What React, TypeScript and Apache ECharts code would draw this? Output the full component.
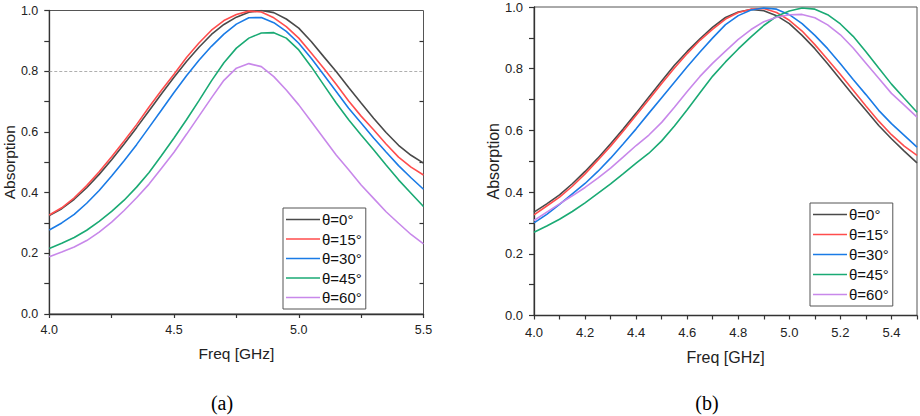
import React, { useEffect, useRef } from "react";
import * as echarts from "echarts";

const freq = [
  4.0, 4.05, 4.1, 4.15, 4.2, 4.25, 4.3, 4.35, 4.4, 4.45, 4.5, 4.55, 4.6, 4.65, 4.7, 4.75,
  4.8, 4.85, 4.9, 4.95, 5.0, 5.05, 5.1, 5.15, 5.2, 5.25, 5.3, 5.35, 5.4, 5.45, 5.5,
];

const seriesNames = ["θ=0°", "θ=15°", "θ=30°", "θ=45°", "θ=60°"];
const seriesColors = ["#4a4a4a", "#ff4d4d", "#1a7be6", "#1aaa74", "#c888ea"];

// Panel (a)
const a0 = [0.324,0.347,0.378,0.416,0.460,0.508,0.560,0.614,0.670,0.726,0.780,0.832,0.879,0.921,0.954,0.978,0.994,1.000,0.993,0.972,0.942,0.898,0.848,0.799,0.746,0.695,0.645,0.598,0.556,0.523,0.497];
const a15 = [0.326,0.350,0.383,0.423,0.469,0.518,0.570,0.624,0.682,0.737,0.790,0.845,0.893,0.935,0.967,0.987,0.998,0.995,0.976,0.947,0.909,0.860,0.810,0.757,0.702,0.652,0.607,0.560,0.517,0.484,0.458];
const a30 = [0.277,0.300,0.328,0.365,0.407,0.455,0.505,0.558,0.615,0.672,0.730,0.785,0.836,0.882,0.922,0.955,0.976,0.977,0.960,0.931,0.892,0.843,0.788,0.733,0.678,0.629,0.580,0.534,0.489,0.449,0.411];
const a45 = [0.216,0.233,0.252,0.276,0.305,0.338,0.375,0.418,0.466,0.522,0.580,0.640,0.703,0.768,0.828,0.876,0.909,0.926,0.927,0.909,0.870,0.815,0.755,0.695,0.640,0.590,0.541,0.491,0.442,0.398,0.354];
const a60 = [0.189,0.204,0.221,0.242,0.270,0.303,0.341,0.383,0.428,0.480,0.533,0.592,0.652,0.712,0.770,0.810,0.825,0.815,0.782,0.738,0.689,0.634,0.579,0.524,0.475,0.425,0.381,0.337,0.299,0.262,0.231];

// Panel (b)
const b0 = [0.335,0.362,0.391,0.427,0.467,0.510,0.557,0.605,0.656,0.708,0.760,0.811,0.856,0.897,0.935,0.966,0.984,0.992,0.988,0.972,0.946,0.908,0.865,0.816,0.765,0.714,0.665,0.616,0.573,0.533,0.495];
const b15 = [0.326,0.355,0.384,0.419,0.459,0.503,0.549,0.598,0.649,0.700,0.752,0.802,0.849,0.892,0.928,0.961,0.982,0.993,0.995,0.982,0.957,0.922,0.878,0.830,0.781,0.730,0.679,0.630,0.586,0.549,0.519];
const b30 = [0.300,0.328,0.360,0.394,0.428,0.467,0.510,0.557,0.605,0.656,0.706,0.756,0.806,0.854,0.900,0.943,0.972,0.990,0.997,0.993,0.975,0.946,0.908,0.865,0.816,0.765,0.716,0.665,0.622,0.584,0.546];
const b45 = [0.270,0.290,0.312,0.337,0.365,0.396,0.427,0.460,0.494,0.526,0.566,0.614,0.667,0.722,0.776,0.822,0.864,0.903,0.940,0.970,0.987,0.997,0.993,0.975,0.945,0.905,0.855,0.802,0.750,0.704,0.659];
const b60 = [0.308,0.335,0.362,0.388,0.415,0.445,0.478,0.514,0.551,0.585,0.626,0.675,0.726,0.775,0.818,0.857,0.895,0.927,0.952,0.967,0.975,0.976,0.965,0.942,0.910,0.867,0.818,0.769,0.720,0.682,0.643];

const panelA = [a0, a15, a30, a45, a60];
const panelB = [b0, b15, b30, b45, b60];
const threshold = 0.8;

const FONT = "'Liberation Sans', Arial, sans-serif";
const AXIS_COLOR = "#333";
const TEXT_COLOR = "#222";

function pairs(vals: number[]) {
  return freq.map((f, i) => [f, vals[i]]);
}

export default function App() {
  const ref = useRef<HTMLDivElement>(null);

  useEffect(() => {
    document.body.style.margin = "0";
    if (!ref.current) return;
    const chart = echarts.init(ref.current, null, { renderer: "svg" });

    const axisLine = { show: true, lineStyle: { color: AXIS_COLOR, width: 1.3 } };

    const yLabelFmt = (v: number) => (Math.round(v * 10) % 2 === 0 ? v.toFixed(1) : "");

    const mkY = (gridIndex: number, fontSize: number, nameSize: number, nameGap: number) => ({
      type: "value",
      gridIndex,
      min: 0,
      max: 1,
      interval: 0.1,
      name: "Absorption",
      nameLocation: "middle",
      nameGap,
      nameTextStyle: { fontSize: nameSize, color: TEXT_COLOR, fontFamily: FONT },
      axisLine,
      axisTick: { show: true, length: 5, lineStyle: { color: AXIS_COLOR, width: 1.2 } },
      axisLabel: { fontSize, color: TEXT_COLOR, fontFamily: FONT, margin: 11, formatter: yLabelFmt },
      splitLine: { show: false },
    });

    const series: any[] = [];
    panelA.forEach((vals, i) => {
      const s: any = {
        type: "line",
        name: seriesNames[i],
        xAxisIndex: 0,
        yAxisIndex: 0,
        data: pairs(vals),
        symbol: "none",
        smooth: false,
        color: seriesColors[i],
        lineStyle: { width: 1.6, color: seriesColors[i] },
        z: 3,
      };
      if (i === 0) {
        s.markLine = {
          silent: true,
          symbol: ["none", "none"],
          label: { show: false },
          lineStyle: { type: [3, 2], color: "#9a9a9a", width: 0.8 },
          data: [{ yAxis: threshold }],
          z: 1,
        };
      }
      series.push(s);
    });
    panelB.forEach((vals, i) => {
      series.push({
        type: "line",
        name: seriesNames[i],
        xAxisIndex: 1,
        yAxisIndex: 2,
        data: pairs(vals),
        symbol: "none",
        smooth: false,
        color: seriesColors[i],
        lineStyle: { width: 1.6, color: seriesColors[i] },
        z: 3,
      });
    });

    const legendBase = {
      orient: "vertical",
      icon: "rect",
      itemWidth: 34,
      itemHeight: 1.6,
      borderColor: "#555",
      borderWidth: 1,
      backgroundColor: "#fff",
      padding: [4, 4, 4, 3],
      selectedMode: false,
      textStyle: { fontSize: 15, color: "#111", fontFamily: FONT, lineHeight: 15, padding: [0, 0, 0, -3] },
      data: seriesNames,
      z: 10,
    };

    chart.setOption({
      animation: false,
      backgroundColor: "#fff",
      grid: [
        { left: 47.5, top: 10.5, width: 376, height: 303.5, show: true, borderColor: "#555", borderWidth: 1, backgroundColor: "transparent" },
        { left: 534, top: 7, width: 383.5, height: 308.5, show: true, borderColor: "#555", borderWidth: 1, backgroundColor: "transparent" },
      ],
      xAxis: [
        {
          type: "value",
          gridIndex: 0,
          min: 4,
          max: 5.5,
          interval: 0.25,
          name: "Freq [GHz]",
          nameLocation: "middle",
          nameGap: 31,
          nameTextStyle: { fontSize: 15.5, color: TEXT_COLOR, fontFamily: FONT },
          axisLine,
          axisTick: { show: true, length: 4, lineStyle: { color: AXIS_COLOR, width: 1.2 } },
          axisLabel: {
            fontSize: 12.5,
            color: TEXT_COLOR,
            fontFamily: FONT,
            margin: 9,
            formatter: (v: number) => (Math.round(v * 4) % 2 === 0 ? v.toFixed(1) : ""),
          },
          splitLine: { show: false },
        },
        {
          type: "value",
          gridIndex: 1,
          min: 4,
          max: 5.5,
          interval: 0.1,
          name: "Freq [GHz]",
          nameLocation: "middle",
          nameGap: 33.5,
          nameTextStyle: { fontSize: 16, color: TEXT_COLOR, fontFamily: FONT },
          axisLine,
          axisTick: { show: true, length: 4, lineStyle: { color: AXIS_COLOR, width: 1.2 } },
          axisLabel: {
            fontSize: 13,
            color: TEXT_COLOR,
            fontFamily: FONT,
            margin: 10,
            formatter: (v: number) => {
              const k = Math.round(v * 10);
              return k % 2 === 0 && k < 55 ? v.toFixed(1) : "";
            },
          },
          splitLine: { show: false },
        },
      ],
      yAxis: [
        mkY(0, 12.5, 15.5, 31),
        {
          type: "value",
          gridIndex: 0,
          position: "right",
          min: 0,
          max: 1,
          interval: 0.2,
          axisLine: { show: false },
          axisTick: { show: false, inside: true },
          minorTick: { show: true, splitNumber: 2, length: 4, lineStyle: { color: AXIS_COLOR, width: 1.2 } },
          axisLabel: { show: false },
          splitLine: { show: false },
        },
        mkY(1, 13, 16, 32.5),
      ],
      legend: [
        { ...legendBase, left: 283, top: 208, itemGap: 4.5 },
        { ...legendBase, left: 810, top: 203, itemGap: 5 },
      ],
      graphic: [
        {
          type: "text",
          x: 222,
          y: 403,
          style: { text: "(a)", fontSize: 20, fontFamily: "'Liberation Serif', 'Times New Roman', serif", fill: "#000", align: "center", verticalAlign: "middle" },
        },
        {
          type: "text",
          x: 707,
          y: 403,
          style: { text: "(b)", fontSize: 20, fontFamily: "'Liberation Serif', 'Times New Roman', serif", fill: "#000", align: "center", verticalAlign: "middle" },
        },
      ],
      series,
    });

    return () => chart.dispose();
  }, []);

  return <div ref={ref} style={{ width: 920, height: 416 }} />;
}
